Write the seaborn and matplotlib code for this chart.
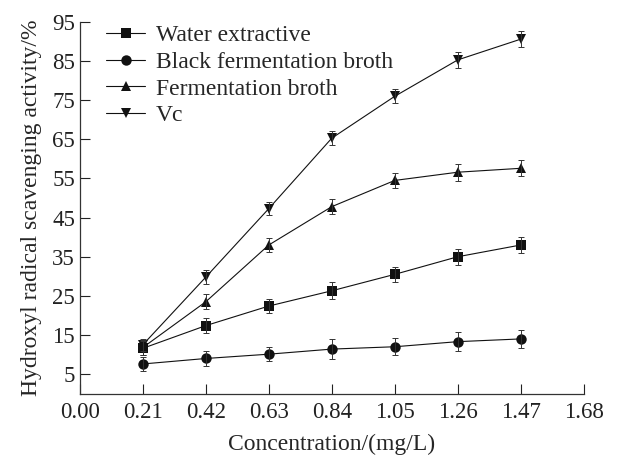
#importing libraries
import numpy as np
import pandas as pd
import matplotlib
matplotlib.use("Agg")
import matplotlib.pyplot as plt
import seaborn as sns

# data
conc = [0.21, 0.42, 0.63, 0.84, 1.05, 1.26, 1.47]
water = [11.6, 17.4, 22.4, 26.3, 30.5, 35.0, 38.0]
water_err = [1.8, 1.9, 1.8, 2.2, 2.0, 2.1, 2.1]
black = [7.6, 9.0, 10.1, 11.4, 12.0, 13.3, 14.0]
black_err = [1.8, 1.8, 1.8, 2.5, 2.2, 2.4, 2.2]
ferment = [11.8, 23.5, 38.0, 47.8, 54.5, 56.6, 57.6]
ferment_err = [1.8, 1.9, 1.8, 2.0, 2.0, 2.2, 2.0]
vc = [12.5, 29.8, 47.3, 65.3, 76.0, 85.3, 90.6]
vc_err = [1.6, 1.8, 1.6, 1.8, 1.8, 2.0, 2.0]

names = ["Water extractive", "Black fermentation broth", "Fermentation broth", "Vc"]
markers = ["s", "o", "^", "v"]
values = [water, black, ferment, vc]
errors = [water_err, black_err, ferment_err, vc_err]

rows = []
for n, vals in zip(names, values):
    for c, v in zip(conc, vals):
        rows.append({"conc": c, "activity": v, "sample": n})
df = pd.DataFrame(rows)

sns.set_style("ticks")
plt.rcParams["font.family"] = ["Liberation Serif", "DejaVu Serif"]

fig = plt.figure(figsize=(6.19, 4.57), dpi=100)
ax = fig.add_axes([0.129, 0.1385, 0.814, 0.8135])

sns.lineplot(data=df, x="conc", y="activity", hue="sample", style="sample",
             hue_order=names, style_order=names,
             palette=["#111111"] * 4, markers=markers, dashes=False,
             markersize=7.5, linewidth=0.8, markeredgewidth=0, ax=ax)

for vals, err in zip(values, errors):
    ax.errorbar(conc, vals, yerr=err, fmt="none", ecolor="#333333",
                elinewidth=0.7, capsize=2.5, capthick=0.7)

ax.set_xlim(0, 1.68)
ax.set_ylim(0, 95)
ax.set_xticks([0.0, 0.21, 0.42, 0.63, 0.84, 1.05, 1.26, 1.47, 1.68])
ax.set_xticklabels(["%.2f" % t for t in ax.get_xticks()])
ax.set_yticks(np.arange(5, 96, 10))
ax.tick_params(direction="in", length=7, width=0.8, labelsize=16.5, colors="#222222")
ax.tick_params(axis="x", pad=6)
for s in ["top", "right"]:
    ax.spines[s].set_visible(False)
for s in ["left", "bottom"]:
    ax.spines[s].set_linewidth(0.9)
    ax.spines[s].set_color("#333333")

ax.set_xlabel("Concentration/(mg/L)", fontsize=17, labelpad=8)
ax.set_ylabel("Hydroxyl radical scavenging activity/%", fontsize=17, labelpad=7)

leg = ax.legend(loc="upper left", bbox_to_anchor=(0.01, 1.05), frameon=False,
                fontsize=17, handlelength=1.65, labelspacing=0.22, handletextpad=0.45)

plt.savefig("out.png", dpi=100)
